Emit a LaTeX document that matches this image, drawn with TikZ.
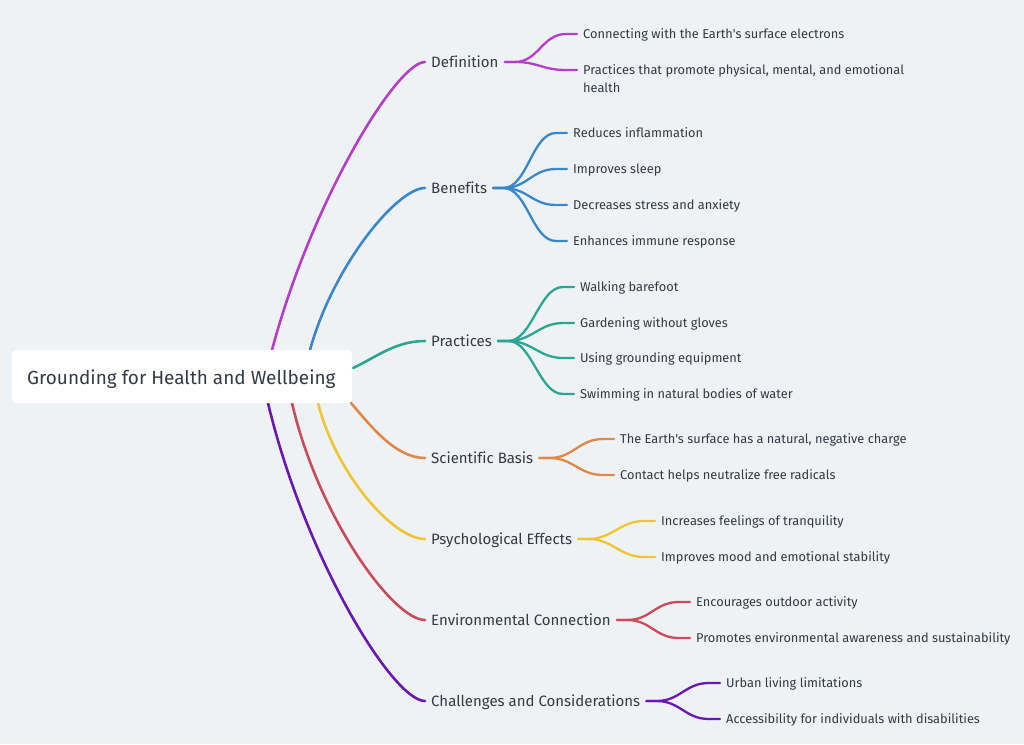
\documentclass[tikz,border=0pt]{standalone}
\usepackage{fontspec}
\setmainfont[Ligatures={NoCommon,TeXOff}]{Fira Sans}
\usetikzlibrary{calc}
\definecolor{bg}{HTML}{EFF2F5}
\definecolor{txt}{HTML}{323A45}
\definecolor{cA}{HTML}{B43FC6}
\definecolor{cB}{HTML}{3B88C9}
\definecolor{cC}{HTML}{2AA694}
\definecolor{cD}{HTML}{E0884A}
\definecolor{cE}{HTML}{F0C534}
\definecolor{cF}{HTML}{CB4B5C}
\definecolor{cG}{HTML}{6A17B6}
\tikzset{
  rootnode/.style={font=\fontsize{18.95}{22}\selectfont, text=txt, inner sep=0pt, anchor=west, text height=13.1pt, text depth=0pt},
  lvlone/.style={font=\fontsize{15}{17}\selectfont, text=txt, inner sep=0pt, anchor=west, text height=10.35pt, text depth=0pt},
  leafnode/.style={font=\fontsize{12.8}{18}\selectfont, text=txt, inner sep=0pt, anchor=west, text height=8.8pt, text depth=0pt},
  leafmulti/.style={font=\fontsize{12.8}{18}\selectfont, text=txt, inner sep=0pt, anchor=north west, align=left},
  mainlink/.style={line width=2.6pt, line cap=round},
  leaflink/.style={line width=2.3pt, line cap=round},
}
\begin{document}
\begin{tikzpicture}[x=1pt,y=-1pt]
\fill[bg] (0,0) rectangle (1024,744);
\useasboundingbox (0,0) rectangle (1024,744);

% exit points on the root box
\coordinate (r1) at (272,350);
\coordinate (r2) at (310,350);
\coordinate (r3) at (353,368);
\coordinate (r4) at (351,403);
\coordinate (r5) at (318,403);
\coordinate (r6) at (292,403);
\coordinate (r7) at (268,403);

% level one nodes
\node[lvlone] (def) at (431,62) {Definition};
\node[lvlone] (ben) at (431,188) {Benefits};
\node[lvlone] (pra) at (431,341) {Practices};
\node[lvlone] (sci) at (431,458) {Scientific Basis};
\node[lvlone] (psy) at (431,539) {Psychological Effects};
\node[lvlone] (env) at (431,620) {Environmental Connection};
\node[lvlone] (cha) at (431,701) {Challenges and Considerations};

% root links
\draw[mainlink, cA] (r1) .. controls (312,200) and (397,62) .. ($(def.west)+(-6,0)$);
\draw[mainlink, cB] (r2) .. controls (333,266) and (397,188) .. ($(ben.west)+(-6,0)$);
\draw[mainlink, cC] (r3) .. controls (375,358) and (395,341) .. ($(pra.west)+(-6,0)$);
\draw[mainlink, cD] (r4) .. controls (370,425) and (395,458) .. ($(sci.west)+(-6,0)$);
\draw[mainlink, cE] (r5) .. controls (336,474) and (393,539) .. ($(psy.west)+(-6,0)$);
\draw[mainlink, cF] (r6) .. controls (318,516) and (393,620) .. ($(env.west)+(-6,0)$);
\draw[mainlink, cG] (r7) .. controls (305,558) and (393,701) .. ($(cha.west)+(-6,0)$);

% root box
\fill[white, rounded corners=4pt] (12,350) rectangle (352,403);
\node[rootnode] (root) at (27,377.5) {Grounding for Health and Wellbeing};

% leaves
\node[leafnode] (a1) at (583,34) {Connecting with the Earth's surface electrons};
\node[leafmulti] (a2) at (583,64.5) {Practices that promote physical, mental, and emotional\\health};
\coordinate (a2p) at (583,70);

\node[leafnode] (b1) at (573,133) {Reduces inflammation};
\node[leafnode] (b2) at (573,169) {Improves sleep};
\node[leafnode] (b3) at (573,205) {Decreases stress and anxiety};
\node[leafnode] (b4) at (573,241) {Enhances immune response};

\node[leafnode] (c1) at (580,287) {Walking barefoot};
\node[leafnode] (c2) at (580,323) {Gardening without gloves};
\node[leafnode] (c3) at (580,358) {Using grounding equipment};
\node[leafnode] (c4) at (580,394) {Swimming in natural bodies of water};

\node[leafnode] (d1) at (620,439) {The Earth's surface has a natural, negative charge};
\node[leafnode] (d2) at (620,475) {Contact helps neutralize free radicals};

\node[leafnode] (e1) at (661,521) {Increases feelings of tranquility};
\node[leafnode] (e2) at (661,557) {Improves mood and emotional stability};

\node[leafnode] (f1) at (696,602) {Encourages outdoor activity};
\node[leafnode] (f2) at (696,638) {Promotes environmental awareness and sustainability};

\node[leafnode] (g1) at (726,683) {Urban living limitations};
\node[leafnode] (g2) at (726,719) {Accessibility for individuals with disabilities};

% leaf links
\foreach \p/\l/\c in {def/a1/cA, def/a2p/cA,
  ben/b1/cB, ben/b2/cB, ben/b3/cB, ben/b4/cB,
  pra/c1/cC, pra/c2/cC, pra/c3/cC, pra/c4/cC,
  sci/d1/cD, sci/d2/cD, psy/e1/cE, psy/e2/cE,
  env/f1/cF, env/f2/cF, cha/g1/cG, cha/g2/cG}{
  \draw[leaflink, \c] ($(\p.east)+(6,0)$) -- ($(\p.east)+(16,0)$)
    .. controls +(24,0) and +(-24,0) .. ($(\l.west)+(-17,0)$)
    -- ($(\l.west)+(-6,0)$);
}
\end{tikzpicture}
\end{document}
